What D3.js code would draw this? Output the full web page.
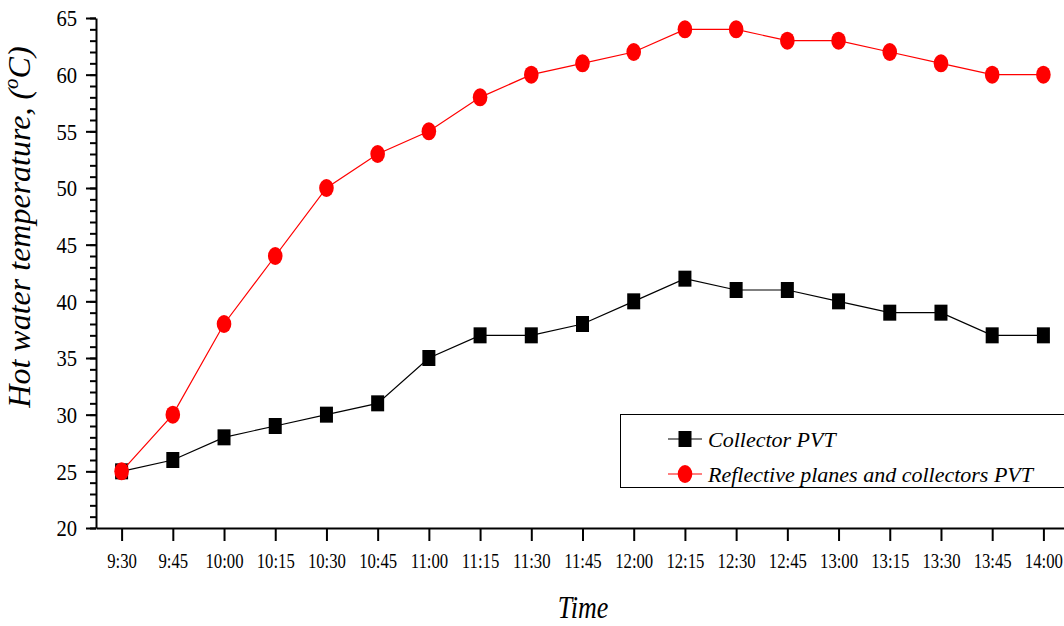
<!DOCTYPE html>
<html>
<head>
<meta charset="utf-8">
<script src="https://cdn.jsdelivr.net/npm/d3@7"></script>
</head>
<body style="margin:0;padding:0;background:#fff">
<svg id="chart" width="1064" height="626" style="display:block"></svg>
<script>
// Time of day (15-minute readings)
const times = ["9:30","9:45","10:00","10:15","10:30","10:45","11:00","11:15","11:30","11:45",
               "12:00","12:15","12:30","12:45","13:00","13:15","13:30","13:45","14:00"];
// Hot water temperature, °C
const collectorPVT = [25,26,28,29,30,31,35,37,37,38,40,42,41,41,40,39,39,37,37];
const reflectivePVT = [25,30,38,44,50,53,55,58,60,61,62,64,64,63,63,62,61,60,60];
const yMajorTicks = [20,25,30,35,40,45,50,55,60,65];
const seriesNames = ["Collector PVT", "Reflective planes and collectors PVT"];

const FONT = '"Liberation Serif"';
const svg = d3.select("#chart");

const x = d3.scalePoint().domain(times).range([96, 1069]).padding(0.5);
const y = d3.scaleLinear().domain([20, 65]).range([528, 18]);

// minor y ticks every 1 °C
svg.append("g")
  .attr("transform", "translate(96,0)")
  .call(d3.axisLeft(y).tickValues(d3.range(20, 66, 1)).tickSize(6).tickSizeOuter(0).tickFormat(""))
  .call(g => g.select(".domain").remove())
  .call(g => g.selectAll("line").attr("stroke", "#000").attr("stroke-width", 2));

// major y axis
const yAxis = svg.append("g")
  .attr("transform", "translate(96,0)")
  .call(d3.axisLeft(y).tickValues(yMajorTicks).tickSize(10).tickSizeOuter(0));
yAxis.select(".domain").attr("stroke", "#000").attr("stroke-width", 2);
yAxis.selectAll("line").attr("stroke", "#000").attr("stroke-width", 2);
yAxis.selectAll("text")
  .style("font-family", FONT)
  .style("font-size", "24px")
  .attr("fill", "#000")
  .attr("x", -19 / 0.86)
  .attr("dy", "0.33em")
  .attr("transform", "scale(0.86,1)");

// x axis
const xAxis = svg.append("g")
  .attr("transform", "translate(0,528)")
  .call(d3.axisBottom(x).tickSize(13).tickSizeOuter(0));
xAxis.select(".domain").attr("stroke", "#000").attr("stroke-width", 2);
xAxis.selectAll("line").attr("stroke", "#000").attr("stroke-width", 2);
xAxis.selectAll("text")
  .style("font-family", FONT)
  .style("font-size", "22px")
  .attr("fill", "#000")
  .attr("y", 40)
  .attr("dy", 0)
  .attr("transform", "scale(0.76,1)");

// axis titles
svg.append("text")
  .attr("transform", "translate(583,618) scale(0.84,1)")
  .attr("text-anchor", "middle")
  .attr("fill", "#000")
  .style("font-family", FONT)
  .style("font-size", "31px")
  .style("font-style", "italic")
  .text("Time");

const yTitle = svg.append("text")
  .attr("transform", "translate(30,227) rotate(-90)")
  .attr("text-anchor", "middle")
  .attr("fill", "#000")
  .style("font-family", FONT)
  .style("font-size", "32px")
  .style("font-style", "italic");
yTitle.append("tspan").text("Hot water temperature, (");
yTitle.append("tspan").style("font-size", "21px").attr("dy", -12).text("o");
yTitle.append("tspan").attr("dy", 12).text("C)");

// series lines and markers
const line = d3.line().x((d, i) => x(times[i])).y(d => y(d));

svg.append("path").datum(collectorPVT)
  .attr("d", line).attr("fill", "none").attr("stroke", "#000").attr("stroke-width", 1.2);
svg.append("g").selectAll("rect").data(collectorPVT).join("rect")
  .attr("x", (d, i) => x(times[i]) - 6.5)
  .attr("y", d => y(d) - 8)
  .attr("width", 13).attr("height", 16)
  .attr("fill", "#000");

svg.append("path").datum(reflectivePVT)
  .attr("d", line).attr("fill", "none").attr("stroke", "#ff0000").attr("stroke-width", 1.2);
svg.append("g").selectAll("ellipse").data(reflectivePVT).join("ellipse")
  .attr("cx", (d, i) => x(times[i]))
  .attr("cy", d => y(d))
  .attr("rx", 7.3).attr("ry", 9)
  .attr("fill", "#ff0000");

// legend
const legend = svg.append("g");
legend.append("rect")
  .attr("x", 620.5).attr("y", 414.5).attr("width", 460).attr("height", 73)
  .attr("fill", "#fff").attr("stroke", "#000").attr("stroke-width", 1);

const rows = [
  { name: seriesNames[0], color: "#000", shape: "square", cy: 439 },
  { name: seriesNames[1], color: "#ff0000", shape: "circle", cy: 474 }
];
rows.forEach(r => {
  legend.append("line")
    .attr("x1", 668).attr("x2", 702).attr("y1", r.cy).attr("y2", r.cy)
    .attr("stroke", r.color).attr("stroke-width", 1.2);
  if (r.shape === "square") {
    legend.append("rect").attr("x", 685 - 6.5).attr("y", r.cy - 8)
      .attr("width", 13).attr("height", 16).attr("fill", r.color);
  } else {
    legend.append("ellipse").attr("cx", 685).attr("cy", r.cy)
      .attr("rx", 7.3).attr("ry", 9).attr("fill", r.color);
  }
  legend.append("text")
    .attr("x", 708).attr("y", r.cy + 8)
    .style("font-family", FONT)
    .style("font-size", "22px")
    .style("font-style", "italic")
    .attr("fill", "#000")
    .text(r.name);
});
</script>
</body>
</html>
